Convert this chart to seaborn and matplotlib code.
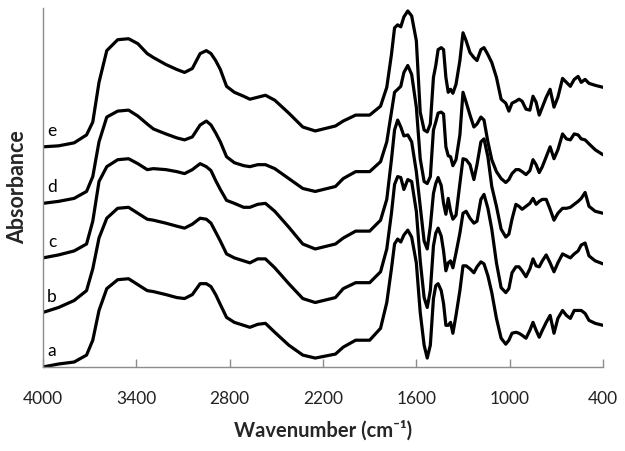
import pandas as pd
import seaborn as sns
import matplotlib.pyplot as plt

# FTIR spectra (absorbance in arbitrary units, curves already stacked)
wavenumber = [4000, 3900, 3800, 3720, 3680, 3640, 3590, 3520, 3450, 3390,
              3330, 3290, 3210, 3140, 3090, 3040, 2990, 2950, 2920, 2890,
              2860, 2820, 2770, 2710, 2670, 2620, 2570, 2510, 2420, 2330,
              2250, 2120, 2070, 1990, 1900, 1830, 1790, 1760, 1740, 1720,
              1700, 1680, 1655, 1630, 1600, 1575, 1550, 1530, 1510, 1490,
              1475, 1460, 1440, 1425, 1410, 1395, 1380, 1365, 1345, 1320,
              1300, 1280, 1255, 1230, 1210, 1185, 1165, 1140, 1115, 1085,
              1055, 1025, 1005, 985, 960, 940, 920, 895, 870, 850,
              830, 810, 790, 765, 740, 715, 690, 660, 635, 610,
              585, 560, 540, 515, 490, 450, 400]

abs_a = [0, 3, 5, 12, 27, 57, 79, 88, 89, 83,
         77, 76, 73, 70, 69, 73, 84, 84, 81, 73,
         63, 50, 45, 42, 40, 43, 44, 35, 22, 12,
         9, 13, 20, 27, 27, 39, 65, 99, 124, 129,
         126, 133, 138, 131, 105, 55, 22, 9, 22, 69,
         82, 84, 77, 64, 42, 42, 45, 34, 52, 77,
         102, 102, 99, 95, 101, 106, 104, 92, 75, 49,
         29, 23, 27, 34, 35, 34, 32, 29, 37, 45,
         37, 30, 37, 45, 52, 34, 49, 57, 52, 49,
         57, 57, 57, 54, 47, 44, 42]

abs_b = [55, 60, 67, 77, 99, 130, 150, 160, 161, 155,
         149, 148, 145, 142, 140, 144, 150, 149, 145, 136,
         127, 114, 110, 107, 105, 109, 109, 100, 84, 69,
         65, 70, 79, 85, 85, 96, 119, 155, 184, 192,
         191, 179, 189, 187, 157, 107, 70, 60, 77, 122,
         135, 140, 132, 117, 97, 105, 107, 100, 115, 135,
         155, 157, 150, 145, 147, 169, 174, 160, 139, 105,
         80, 75, 79, 95, 101, 101, 97, 91, 99, 109,
         102, 101, 107, 113, 105, 96, 105, 114, 112, 110,
         114, 117, 123, 125, 112, 107, 104]

abs_c = [110, 113, 117, 124, 147, 187, 202, 209, 210, 205,
         199, 200, 199, 197, 195, 199, 205, 202, 198, 188,
         179, 168, 165, 161, 161, 164, 165, 157, 141, 124,
         119, 124, 130, 137, 137, 148, 169, 209, 239, 249,
         242, 233, 234, 227, 197, 162, 127, 119, 142, 175,
         185, 191, 183, 165, 154, 170, 157, 149, 153, 185,
         210, 209, 204, 189, 204, 227, 230, 212, 182, 162,
         139, 131, 134, 149, 164, 162, 159, 162, 165, 170,
         164, 167, 169, 169, 159, 148, 155, 160, 160, 161,
         164, 167, 170, 176, 162, 157, 155]

abs_d = [165, 167, 170, 177, 192, 227, 252, 258, 259, 253,
         245, 240, 235, 231, 229, 232, 244, 248, 244, 236,
         227, 212, 206, 203, 202, 204, 204, 200, 190, 180,
         177, 182, 190, 197, 197, 207, 227, 257, 277, 280,
         283, 297, 304, 295, 262, 210, 187, 185, 192, 239,
         247, 256, 257, 255, 222, 213, 212, 203, 209, 234,
         277, 267, 254, 242, 245, 252, 249, 227, 209, 197,
         190, 186, 189, 195, 199, 199, 197, 194, 198, 209,
         204, 196, 202, 212, 222, 210, 219, 235, 230, 229,
         235, 234, 230, 229, 225, 219, 214]

abs_e = [222, 223, 226, 234, 247, 287, 319, 330, 331, 326,
         316, 312, 305, 300, 297, 301, 316, 319, 316, 309,
         300, 283, 277, 273, 270, 272, 274, 269, 256, 242,
         238, 243, 248, 254, 254, 263, 282, 315, 342, 345,
         343, 353, 359, 354, 329, 257, 239, 237, 245, 292,
         304, 320, 322, 320, 292, 277, 280, 276, 285, 309,
         337, 329, 317, 312, 309, 320, 322, 315, 307, 292,
         270, 266, 258, 266, 268, 270, 268, 260, 259, 273,
         267, 254, 262, 272, 280, 262, 272, 291, 287, 283,
         290, 293, 287, 290, 286, 284, 282]

samples = ["a", "b", "c", "d", "e"]
spectra = [abs_a, abs_b, abs_c, abs_d, abs_e]
x_ticks = [4000, 3400, 2800, 2200, 1600, 1000, 400]

sns.set_theme(style="white")
plt.rcParams['font.family'] = ['Lato', 'DejaVu Sans']

df = pd.concat([pd.DataFrame({"Wavenumber": wavenumber, "Absorbance": vals, "Sample": s})
                for s, vals in zip(samples, spectra)], ignore_index=True)

fig = plt.figure(figsize=(6.25, 4.51), dpi=100)
ax = fig.add_axes([0.0688, 0.1863, 0.896, 0.796])

sns.lineplot(data=df, x="Wavenumber", y="Absorbance", units="Sample", estimator=None,
             sort=False, color="black", lw=2.3, ax=ax)

# curve letters just above the left end of each spectrum
for s, vals in zip(samples, spectra):
    ax.text(3942, vals[0] + 16, s, ha="center", va="center", fontsize=12.5, color="black")

ax.set_xlim(4000, 400)
ax.set_ylim(0, 362)
ax.set_xticks(x_ticks)
ax.set_xticklabels([str(t) for t in x_ticks], fontsize=12.5, color="#222222")
ax.set_yticks([])
ax.tick_params(axis="x", direction="in", length=6, width=1, color="#8c8c8c", pad=17,
               bottom=True)

for side in ["top", "right"]:
    ax.spines[side].set_visible(False)
for side in ["left", "bottom"]:
    ax.spines[side].set_color("#8c8c8c")
    ax.spines[side].set_linewidth(1)

ax.set_xlabel("Wavenumber (cm\u207b\u00b9)", fontsize=14.5, fontweight="bold", labelpad=10)
ax.set_ylabel("Absorbance", fontsize=15.5, fontweight="bold", labelpad=11)

fig.savefig("out.png", dpi=100)
